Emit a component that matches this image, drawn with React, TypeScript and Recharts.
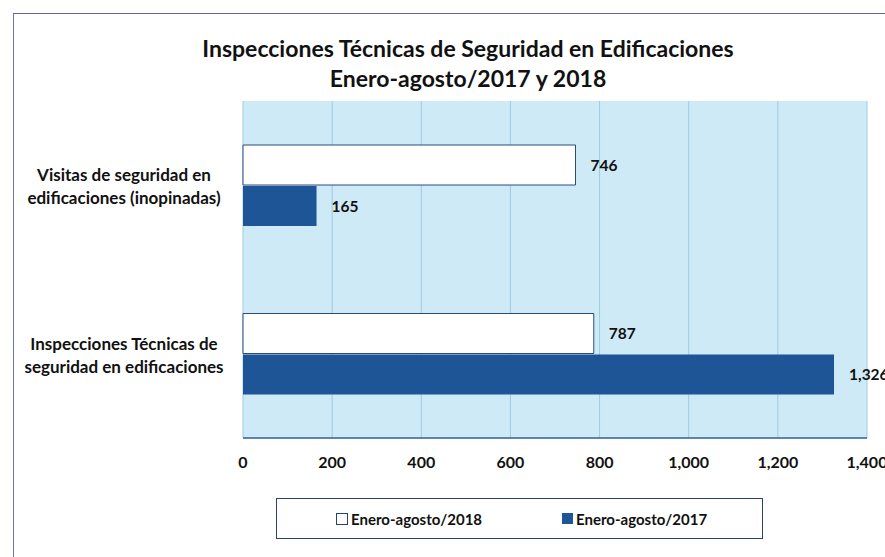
import React from 'react';
import { BarChart, Bar, XAxis, YAxis, CartesianGrid, LabelList, Legend } from 'recharts';

const categoryLines = [
  ['Visitas de seguridad en', 'edificaciones (inopinadas)'],
  ['Inspecciones Técnicas de', 'seguridad en edificaciones'],
];
const categories = categoryLines.map(l => l.join(' '));
const values2018 = [746, 787];
const values2017 = [165, 1326];
const xTicks = [0, 200, 400, 600, 800, 1000, 1200, 1400];

const FONT = 'Lato, "Open Sans", sans-serif';
const DARK = '#1d5597';

const data = categories.map((c, i) => ({
  name: c,
  y2018: values2018[i],
  y2017: values2017[i],
}));

const fmt = (v: number) => v.toLocaleString('en-US');

const CategoryTick = ({ x, y, payload }: any) => {
  const idx = categories.indexOf(payload.value);
  const lines = categoryLines[idx] || [payload.value];
  return (
    <text x={124} y={y} textAnchor="middle" fontFamily={FONT} fontWeight={700} fontSize={17} fill="#111">
      {lines.map((l, i) => (
        <tspan key={i} x={124} dy={i === 0 ? -4 : 23}>{l}</tspan>
      ))}
    </text>
  );
};

const LegendBox = () => (
  <div
    style={{
      width: 487,
      height: 41,
      boxSizing: 'border-box',
      border: '1.5px solid #2b3f78',
      display: 'flex',
      alignItems: 'center',
      fontFamily: FONT,
      fontWeight: 700,
      fontSize: 15,
      color: '#111',
      background: '#fff',
    }}
  >
    <span style={{ marginLeft: 59, display: 'inline-block', width: 10, height: 10, border: '1px solid #2b3f78', background: '#fff', marginRight: 3 }} />
    <span>Enero-agosto/2018</span>
    <span style={{ marginLeft: 80, display: 'inline-block', width: 11, height: 11, background: DARK, marginRight: 3 }} />
    <span>Enero-agosto/2017</span>
  </div>
);

const App = () => {
  return (
    <div style={{ position: 'absolute', left: 0, top: 0, width: 885, height: 557, background: '#fff', overflow: 'hidden' }}>
      <div style={{ position: 'absolute', left: 13, top: 13, width: 900, height: 560, borderTop: '1.5px solid #5a6a9a', borderLeft: '1.5px solid #6a7ab0' }} />
      <div
        style={{
          position: 'absolute',
          left: 0,
          width: 936,
          top: 33,
          textAlign: 'center',
          fontFamily: FONT,
          fontWeight: 700,
          fontSize: 23,
          lineHeight: '30px',
          color: '#111',
        }}
      >
        Inspecciones Técnicas de Seguridad en Edificaciones
        <br />
        Enero-agosto/2017 y 2018
      </div>
      <div style={{ position: 'absolute', left: 0, top: 0 }}>
        <BarChart
          width={885}
          height={557}
          data={data}
          layout="vertical"
          margin={{ top: 101, right: 18, bottom: 79, left: 0 }}
          barGap={1}
        >
          <CartesianGrid horizontal={false} fill="#cfeaf7" stroke="#9ccbe4" />
          <XAxis
            type="number"
            domain={[0, 1400]}
            ticks={xTicks}
            tickFormatter={fmt}
            interval={0}
            height={40}
            tickLine={false}
            axisLine={{ stroke: '#2f5f8f', strokeWidth: 1.5 }}
            tick={{ fill: '#111', fontSize: 16, fontWeight: 700, fontFamily: FONT }}
            tickMargin={13}
          />
          <YAxis
            type="category"
            dataKey="name"
            width={243}
            axisLine={false}
            tickLine={false}
            tick={<CategoryTick />}
          />
          <Legend
            layout="horizontal"
            verticalAlign="middle"
            align="center"
            wrapperStyle={{ top: 498, left: 276, width: 487, height: 41 }}
            content={<LegendBox />}
          />
          <Bar dataKey="y2018" name="Enero-agosto/2018" fill="#ffffff" stroke="#2b4a7e" strokeWidth={1} barSize={40} isAnimationActive={false}>
            <LabelList dataKey="y2018" position="right" offset={15} formatter={(v: any) => fmt(v)} style={{ fontFamily: FONT, fontWeight: 700, fontSize: 15.5, fill: '#111' }} />
          </Bar>
          <Bar dataKey="y2017" name="Enero-agosto/2017" fill={DARK} barSize={40} isAnimationActive={false}>
            <LabelList dataKey="y2017" position="right" offset={15} formatter={(v: any) => fmt(v)} style={{ fontFamily: FONT, fontWeight: 700, fontSize: 15.5, fill: '#111' }} />
          </Bar>
        </BarChart>
      </div>
    </div>
  );
};

export default App;
